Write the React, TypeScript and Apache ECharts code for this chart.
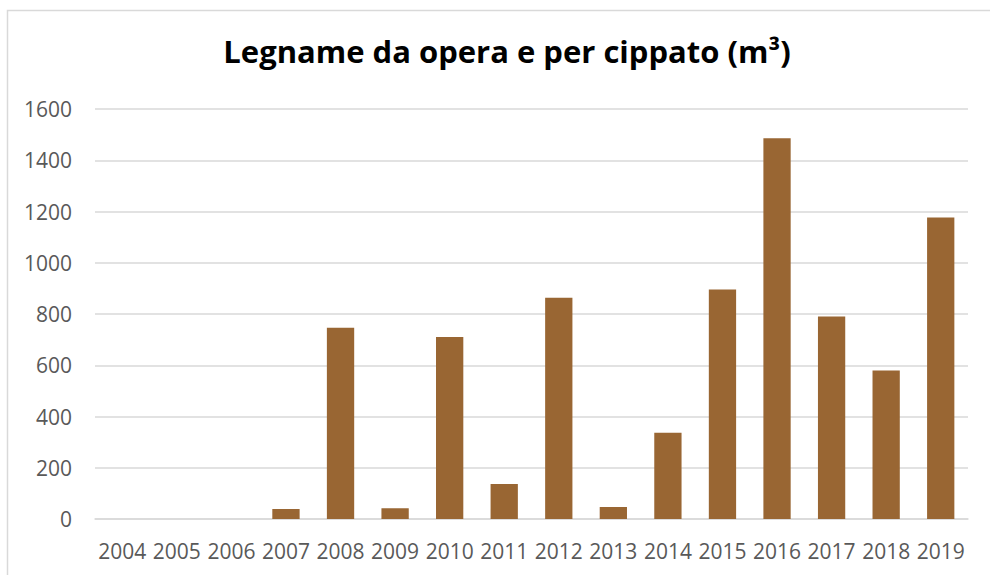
import React, { useEffect, useRef } from "react";
import * as echarts from "echarts";

const titleText = "Legname da opera e per cippato (m³)";
const years = ["2004", "2005", "2006", "2007", "2008", "2009", "2010", "2011", "2012", "2013", "2014", "2015", "2016", "2017", "2018", "2019"];
const volumes = [0, 0, 0, 39, 746, 42, 710, 137, 863, 47, 337, 896, 1486, 790, 580, 1177];
const yMin = 0;
const yMax = 1600;
const yStep = 200;

export default function App() {
  const ref = useRef<HTMLDivElement>(null);
  useEffect(() => {
    if (!ref.current) return;
    const chart = echarts.init(ref.current, undefined, { renderer: "svg" });
    chart.setOption({
      animation: false,
      backgroundColor: "#ffffff",
      title: {
        text: titleText,
        left: 502,
        top: 30,
        textAlign: "center",
        textStyle: {
          fontFamily: "Open Sans",
          fontWeight: "bold",
          fontSize: 31,
          color: "#000000",
        },
      },
      graphic: [
        {
          type: "rect",
          shape: { x: 7.5, y: 10.5, width: 1000, height: 600 },
          style: { fill: "none", stroke: "#d9d9d9", lineWidth: 1.5 },
          silent: true,
        },
      ],
      grid: { left: 95, right: 22, top: 109, bottom: 56, containLabel: false },
      xAxis: {
        type: "category",
        data: years,
        axisLine: { show: true, lineStyle: { color: "#d9d9d9", width: 1.5 } },
        axisTick: { show: false },
        axisLabel: {
          color: "#595959",
          fontFamily: "Open Sans",
          fontSize: 21,
          margin: 21,
          interval: 0,
        },
      },
      yAxis: {
        type: "value",
        min: yMin,
        max: yMax,
        interval: yStep,
        axisLine: { show: false },
        axisTick: { show: false },
        splitLine: { lineStyle: { color: "#d9d9d9", width: 1.5 } },
        axisLabel: {
          color: "#595959",
          fontFamily: "Open Sans",
          fontSize: 21,
          margin: 23,
          formatter: (v: number) => String(v),
        },
      },
      series: [
        {
          type: "bar",
          data: volumes,
          barCategoryGap: "50%",
          itemStyle: { color: "#996633" },
        },
      ],
    });
    return () => chart.dispose();
  }, []);
  return (
    <div
      ref={ref}
      style={{ position: "absolute", left: 0, top: 0, width: 990, height: 575 }}
    />
  );
}
